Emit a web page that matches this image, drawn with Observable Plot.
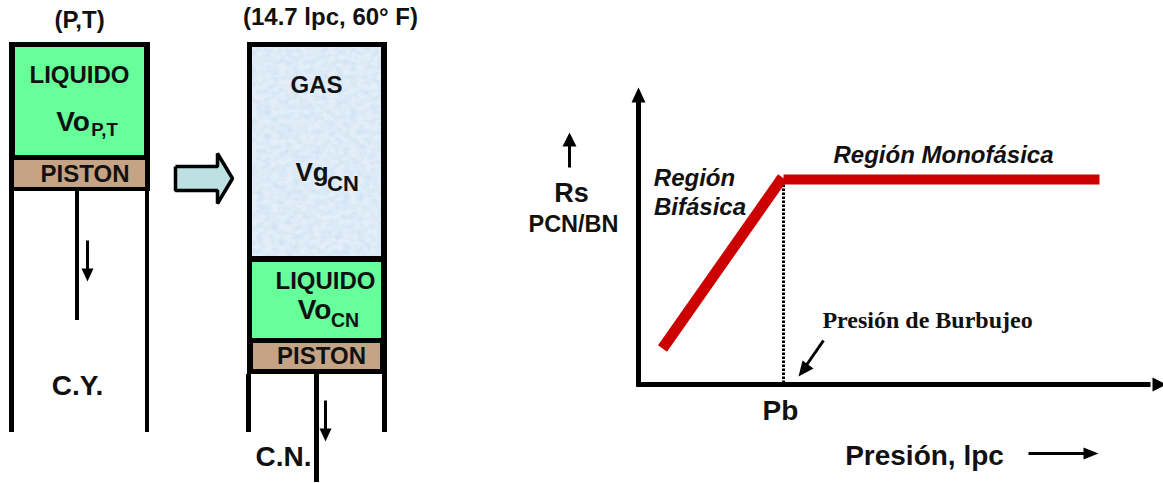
<!DOCTYPE html>
<html><head><meta charset="utf-8">
<script src="https://cdn.jsdelivr.net/npm/d3@7"></script>
<script src="https://cdn.jsdelivr.net/npm/@observablehq/plot@0.6"></script>
<style>html,body{margin:0;padding:0;background:#fff}svg{display:block}</style>
</head><body><div id="chart"></div>
<script>
// Diagram geometry in picture units (x to the right, y downward)
const box = ([x1,x2,y1,y2])=>({x1,x2,y1,y2});
const blackBoxes = [
  [9,15,42,191],[144,150,42,191],[9,14,191,432],[145,149,191,432],[9,150,42,47],[9,150,155,191],
  [75,79,191,320],
  [247,252,42,374],[381,387,42,374],[246,251,374,432],[382,387,374,432],[247,387,42,47],[247,387,256,262],[247,387,338,374],
  [314,319,374,482]
].map(box);
const liquidBoxes = [[15,144,47,155],[252,381,262,338]].map(box);
const pistonBoxes = [[14,145,160,187],[253,380,343,369]].map(box);
const gasBoxes = [[252,381,47,256]].map(box);

const flowArrow = [[175,166],[217,166],[217,153],[232,178],[217,203],[217,190],[175,190],[175,166]];
const rsDiagonal = [[662,348],[782,177]];
const rsFlat = [[783,179],[1099,179]];
const pbDrop = [[783,184],[783,384]];
const thickAxes = [[[638,386],[638,100]],[[636,384],[1150,384]]];
const thinShafts = [[[87,240],[87,270]],[[325,400],[325,430]],[[569,167],[569,142]],[[1028,453],[1085,453]],[[823,340],[805,366]]];
const arrowHeads = [
  [[87,281],[81,268],[93,268]],
  [[325,441],[319,428],[331,428]],
  [[569,132],[562,146],[576,146]],
  [[1098,453],[1083,447],[1083,459]],
  [[798,376],[802,360],[813,368]],
  [[638,87],[631,102],[645,102]],
  [[1166,384],[1152,377],[1152,391]]
];

const headings = [["(P,T)",79,20],["(14.7 lpc, 60° F)",330,17]];
const boxWords = [["LIQUIDO",79,75],["LIQUIDO",325,281],["PISTON",84.5,174],["PISTON",321,356],["GAS",316,85]];
const volumes = [["Vo",72.5,122],["Vo",314,310]];
const vgLabel = [["Vg",311.5,172]];
const subPT = [["P,T",104,130]];
const subCN = [["CN",342.5,183]];
const subCN2 = [["CN",344.5,320]];
const stations = [["C.Y.",77,386],["C.N.",283,457],["Pb",780,411]];
const regions = [["Región",694,178],["Bifásica",699.5,207],["Región Monofásica",943,155]];
const rsLabel = [["Rs",571,193]];
const rsUnits = [["PCN/BN",573,224]];
const xTitle = [["Presión, lpc",924,456]];
const bubble = [["Presión de Burbujeo",927,320]];

const gasColor = "#e3eef9";
const rects = (d,fill)=>Plot.rect(d,{x1:"x1",x2:"x2",y1:"y1",y2:"y2",fill});
const path = (d,stroke,strokeWidth,extra={})=>Plot.line(d,{x:p=>p[0],y:p=>p[1],stroke,strokeWidth,strokeLinecap:"butt",strokeLinejoin:"miter",...extra});
const words = (d,fontSize,extra={})=>Plot.text(d,{x:t=>t[1],y:t=>t[2],text:t=>t[0],fontSize,fontWeight:"bold",fontFamily:"Liberation Sans",fill:"#111",textAnchor:"middle",lineAnchor:"middle",...extra});

const svg = Plot.plot({
  width:1163,height:483,margin:0,
  x:{domain:[0,1163],range:[0,1163],axis:null},
  y:{domain:[0,483],range:[0,483],axis:null},
  style:{background:"#fff"},
  marks:[
    rects(blackBoxes,"#000"),
    rects(gasBoxes,gasColor),
    rects(liquidBoxes,"#66ff99"),
    rects(pistonBoxes,"#c4a484"),
    path(flowArrow,"#000",3.5,{fill:"#bde0e2"}),
    ...thickAxes.map(a=>path(a,"#000",5)),
    ...thinShafts.map(a=>path(a,"#000",3)),
    ...arrowHeads.map(a=>path([...a,a[0]],"none",0,{fill:"#000"})),
    path(pbDrop,"#000",3,{strokeDasharray:"2.5 1.5"}),
    path(rsDiagonal,"#cc0000",11),
    path(rsFlat,"#cc0000",10),
    words(headings,24),
    words(boxWords,24),
    words(volumes,28),
    words(vgLabel,26),
    words(subPT,18.5),
    words(subCN,22),
    words(subCN2,19.5),
    words(stations,28),
    words(regions,24,{fontStyle:"italic"}),
    words(rsLabel,27),
    words(rsUnits,23.5),
    words(xTitle,28),
    words(bubble,24,{fontFamily:"Liberation Serif"})
  ]
});
// Mottled gas fill
d3.select(svg).insert("defs",":first-child").html(`
  <filter id="gasNoise" x="0" y="0" width="100%" height="100%" color-interpolation-filters="sRGB">
    <feTurbulence type="fractalNoise" baseFrequency="0.14 0.2" numOctaves="3" seed="4" result="n"/>
    <feColorMatrix in="n" type="matrix" values="0 0 0 0 0.80  0 0 0 0 0.88  0 0 0 0 0.95  1.6 0 0 0 -0.55" result="m"/>
    <feMerge><feMergeNode in="SourceGraphic"/><feMergeNode in="m"/></feMerge>
  </filter>`);
d3.select(svg).selectAll(`[fill="${gasColor}"]`).attr("filter","url(#gasNoise)");
document.getElementById("chart").append(svg);
</script></body></html>
